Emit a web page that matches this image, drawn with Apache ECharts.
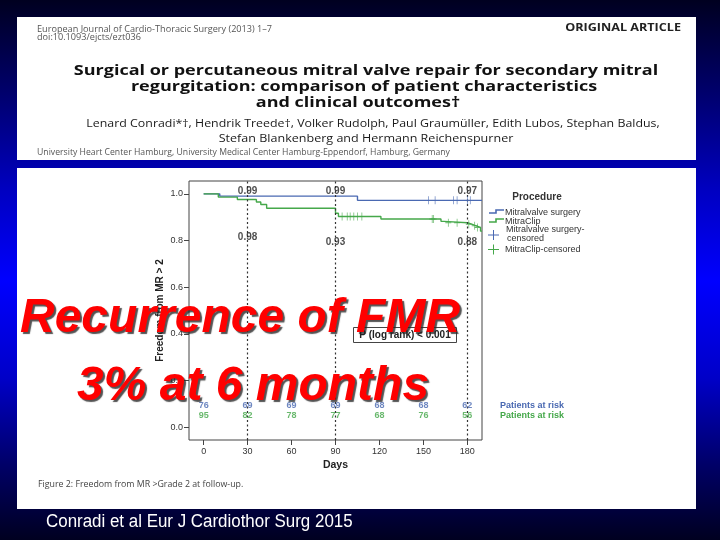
<!DOCTYPE html>
<html>
<head>
<meta charset="utf-8">
<script src="https://cdn.jsdelivr.net/npm/echarts@6/dist/echarts.min.js"></script>
<style>
html,body{margin:0;padding:0;}
body{width:720px;height:540px;overflow:hidden;position:relative;
background:linear-gradient(to bottom,#000020 0%,#000070 18%,#0000c0 35%,#0000ff 52%,#0000c8 70%,#000068 86%,#000020 100%);}
.box{position:absolute;background:#fff;}
#chart{position:absolute;left:0;top:0;width:720px;height:540px;}
</style>
</head>
<body>
<div class="box" style="left:17px;top:17px;width:679px;height:143px;"></div>
<div class="box" style="left:17px;top:168px;width:679px;height:341px;"></div>
<div id="chart"></div>
<script>
// ---- data ----
const dayTicks = [0, 30, 60, 90, 120, 150, 180];
const yTicks = [0, 0.2, 0.4, 0.6, 0.8, 1.0];

const surgeryTimes = [0, 11, 105, 190];
const surgerySurv  = [1.0, 0.990, 0.972, 0.972];

const clipTimes = [0, 10, 23, 36, 39, 43, 90, 92, 121, 162, 164, 180, 183, 186, 189, 190];
const clipSurv  = [1.0, 0.986, 0.976, 0.965, 0.954, 0.938, 0.917, 0.903, 0.892, 0.882, 0.876, 0.870, 0.863, 0.856, 0.840, 0.840];

const surgeryCensTimes = [153.5, 158, 170.5, 173, 180, 182];
const surgeryCensSurv  = [0.972, 0.972, 0.972, 0.972, 0.972, 0.972];

const clipCensTimes = [94.5, 98, 100, 102.5, 105, 108, 156, 157, 167, 173, 181, 185, 187];
const clipCensSurv  = [0.903, 0.903, 0.903, 0.903, 0.903, 0.903, 0.892, 0.892, 0.876, 0.876, 0.870, 0.863, 0.856];

const milestoneDays = [30, 90, 180];
const surgeryMilestone = ['0.99', '0.99', '0.97'];
const clipMilestone = ['0.98', '0.93', '0.88'];

const surgeryAtRisk = [76, 69, 69, 69, 68, 68, 62];
const clipAtRisk    = [95, 82, 78, 77, 68, 76, 56];

// ---- styling ----
const BLUE = '#4a69b2';
const GREEN = '#45a84a';
const AR = '"Liberation Sans", Arial, sans-serif';
const OS = '"Open Sans", "Noto Sans", sans-serif';

const chart = echarts.init(document.getElementById('chart'), null, {renderer: 'canvas'});

function T(x, y, text, o) {
  o = o || {};
  return {
    type: 'text', x: x, y: y, z: o.z || 10, scaleX: o.sx || 1,
    style: {
      text: text, fill: o.fill || '#222',
      fontSize: o.size || 10, fontWeight: o.weight || 'normal',
      fontStyle: o.style || 'normal', fontFamily: o.family || AR,
      align: o.align || 'left', verticalAlign: o.va || 'middle'
    }
  };
}
function poly(points, color, w) {
  return {type: 'polyline', z: 10, shape: {points: points},
    style: {stroke: color, lineWidth: w || 1.5, fill: null}};
}

const plusPath = 'path://M4.4,0 H5.6 V4.4 H10 V5.6 H5.6 V10 H4.4 V5.6 H0 V4.4 H4.4 Z';

const bottomLabelY = [0.816, 0.791, 0.791];
const topLabelY = 1.009;
const riskYSurgery = 0.091;
const riskYClip = 0.048;

const redStyle = {fill: '#ff0000', fontSize: 48, fontWeight: 'bold', fontStyle: 'italic',
  fontFamily: AR, align: 'left', verticalAlign: 'middle',
  textShadowColor: 'rgba(40,40,40,0.8)', textShadowOffsetX: 2, textShadowOffsetY: 2, textShadowBlur: 1,
  shadowColor: 'rgba(40,40,40,0.8)', shadowOffsetX: 2, shadowOffsetY: 2, shadowBlur: 1};

const graphics = [
  // header (paper)
  T(37, 30, 'European Journal of Cardio-Thoracic Surgery (2013) 1–7', {size: 8.3, fill: '#555', family: OS, sx: 1.1}),
  T(37, 38, 'doi:10.1093/ejcts/ezt036', {size: 8.3, fill: '#555', family: OS, sx: 1.1}),
  T(681, 28.5, 'ORIGINAL ARTICLE', {size: 10.5, weight: 'bold', fill: '#222', family: OS, align: 'right', sx: 1.2}),
  T(366, 71, 'Surgical or percutaneous mitral valve repair for secondary mitral', {size: 15, weight: 'bold', fill: '#111', family: OS, align: 'center', sx: 1.2}),
  T(364, 87, 'regurgitation: comparison of patient characteristics', {size: 15, weight: 'bold', fill: '#111', family: OS, align: 'center', sx: 1.2}),
  T(358, 102.5, 'and clinical outcomes†', {size: 15, weight: 'bold', fill: '#111', family: OS, align: 'center', sx: 1.2}),
  T(373, 124, 'Lenard Conradi*†, Hendrik Treede†, Volker Rudolph, Paul Graumüller, Edith Lubos, Stephan Baldus,', {size: 11, fill: '#1a1a1a', family: OS, align: 'center', sx: 1.125}),
  T(366, 138.5, 'Stefan Blankenberg and Hermann Reichenspurner', {size: 11, fill: '#1a1a1a', family: OS, align: 'center', sx: 1.14}),
  T(37, 152.5, 'University Heart Center Hamburg, University Medical Center Hamburg-Eppendorf, Hamburg, Germany', {size: 8.3, fill: '#555', family: OS, sx: 1.045}),

  // legend
  T(537, 197.5, 'Procedure', {size: 10, weight: 'bold', fill: '#333', align: 'center'}),
  poly([[489, 213], [496, 213], [496, 210], [504, 210]], BLUE, 1.6),
  T(505, 212.5, 'Mitralvalve surgery', {size: 9, fill: '#333'}),
  poly([[489, 222], [496, 222], [496, 219], [504, 219]], GREEN, 1.6),
  T(505, 221.5, 'MitraClip', {size: 9, fill: '#333'}),
  poly([[488, 235], [499, 235]], BLUE, 1),
  poly([[493.5, 230], [493.5, 240]], BLUE, 1),
  T(506, 229.5, 'Mitralvalve surgery-', {size: 9, fill: '#333'}),
  T(507, 239, 'censored', {size: 9, fill: '#333'}),
  poly([[488, 249.5], [499, 249.5]], GREEN, 1),
  poly([[493.5, 244.5], [493.5, 254.5]], GREEN, 1),
  T(505, 249.5, 'MitraClip-censored', {size: 9, fill: '#333'}),

  // patients at risk labels
  T(500, 406, 'Patients at risk', {size: 9, weight: 'bold', fill: BLUE}),
  T(500, 416, 'Patients at risk', {size: 9, weight: 'bold', fill: GREEN}),

  // log-rank box
  {type: 'rect', z: 10, shape: {x: 353.5, y: 327.5, width: 103, height: 15},
    style: {fill: '#fff', stroke: '#444', lineWidth: 1}},
  T(405, 335, 'P (log rank) < 0.001', {size: 10, weight: 'bold', fill: '#222', align: 'center'}),

  // figure caption
  T(38, 484, 'Figure 2: Freedom from MR >Grade 2 at follow-up.', {size: 8.8, fill: '#444', family: OS}),

  // red overlay
  {type: 'text', x: 20, y: 319, z: 100, style: Object.assign({text: 'Recurrence of FMR'}, redStyle)},
  {type: 'text', x: 77, y: 387, z: 100, style: Object.assign({text: '3% at 6 months'}, redStyle)},

  // slide citation
  T(46, 522, 'Conradi et al Eur J Cardiothor Surg 2015', {size: 18, fill: '#ffffff', sx: 0.94})
];

const option = {
  animation: false,
  backgroundColor: 'transparent',
  grid: {left: 189, top: 181, width: 293, height: 259, show: true,
    borderColor: '#444', borderWidth: 1, backgroundColor: 'transparent'},
  xAxis: {
    type: 'value', min: -10, max: 190,
    axisLine: {show: false, onZero: false},
    axisTick: {show: true, length: 5, customValues: dayTicks, lineStyle: {color: '#444'}},
    axisLabel: {customValues: dayTicks, color: '#333', fontSize: 9, fontFamily: AR, margin: 7},
    splitLine: {show: false},
    name: 'Days', nameLocation: 'middle', nameGap: 20,
    nameTextStyle: {fontSize: 10.5, fontWeight: 'bold', color: '#222', fontFamily: AR}
  },
  yAxis: {
    type: 'value', min: -0.055, max: 1.055,
    axisLine: {show: false, onZero: false},
    axisTick: {show: true, length: 5, customValues: yTicks, lineStyle: {color: '#444'}},
    axisLabel: {customValues: yTicks, color: '#333', fontSize: 9, fontFamily: AR, margin: 6,
      formatter: v => v.toFixed(1)},
    splitLine: {show: false},
    name: 'Freedom from MR > 2', nameLocation: 'middle', nameGap: 24,
    nameTextStyle: {fontSize: 10, fontWeight: 'bold', color: '#222', fontFamily: AR}
  },
  series: [
    {
      type: 'line', step: 'end', symbol: 'none', z: 3, silent: true,
      data: surgeryTimes.map((t, i) => [t, surgerySurv[i]]),
      lineStyle: {color: BLUE, width: 1.4},
      markLine: {
        silent: true, symbol: 'none', label: {show: false},
        lineStyle: {color: '#333', type: [2, 2.5], width: 1.2},
        data: milestoneDays.map(d => ({xAxis: d}))
      }
    },
    {
      type: 'line', step: 'end', symbol: 'none', z: 4, silent: true,
      data: clipTimes.map((t, i) => [t, clipSurv[i]]),
      lineStyle: {color: GREEN, width: 1.4}
    },
    {
      type: 'scatter', symbol: plusPath, symbolSize: [6, 8], z: 5, silent: true,
      itemStyle: {color: BLUE},
      data: surgeryCensTimes.map((t, i) => [t, surgeryCensSurv[i]])
    },
    {
      type: 'scatter', symbol: plusPath, symbolSize: [6, 8], z: 5, silent: true,
      itemStyle: {color: GREEN},
      data: clipCensTimes.map((t, i) => [t, clipCensSurv[i]])
    },
    {
      type: 'scatter', symbolSize: 1, z: 6, silent: true, itemStyle: {color: 'transparent'},
      data: milestoneDays.map((d, i) => [d, topLabelY, surgeryMilestone[i]]),
      label: {show: true, position: 'inside', formatter: p => p.value[2],
        fontSize: 10, fontWeight: 'bold', color: '#222', fontFamily: AR}
    },
    {
      type: 'scatter', symbolSize: 1, z: 6, silent: true, itemStyle: {color: 'transparent'},
      data: milestoneDays.map((d, i) => [d, bottomLabelY[i], clipMilestone[i]]),
      label: {show: true, position: 'inside', formatter: p => p.value[2],
        fontSize: 10, fontWeight: 'bold', color: '#222', fontFamily: AR}
    },
    {
      type: 'scatter', symbolSize: 1, z: 6, silent: true, itemStyle: {color: 'transparent'},
      data: dayTicks.map((d, i) => [d, riskYSurgery, surgeryAtRisk[i]]),
      label: {show: true, position: 'inside', formatter: p => p.value[2],
        fontSize: 9, fontWeight: 'bold', color: BLUE, fontFamily: AR}
    },
    {
      type: 'scatter', symbolSize: 1, z: 6, silent: true, itemStyle: {color: 'transparent'},
      data: dayTicks.map((d, i) => [d, riskYClip, clipAtRisk[i]]),
      label: {show: true, position: 'inside', formatter: p => p.value[2],
        fontSize: 9, fontWeight: 'bold', color: GREEN, fontFamily: AR}
    }
  ],
  graphic: graphics
};
chart.setOption(option);
</script>
</body>
</html>
